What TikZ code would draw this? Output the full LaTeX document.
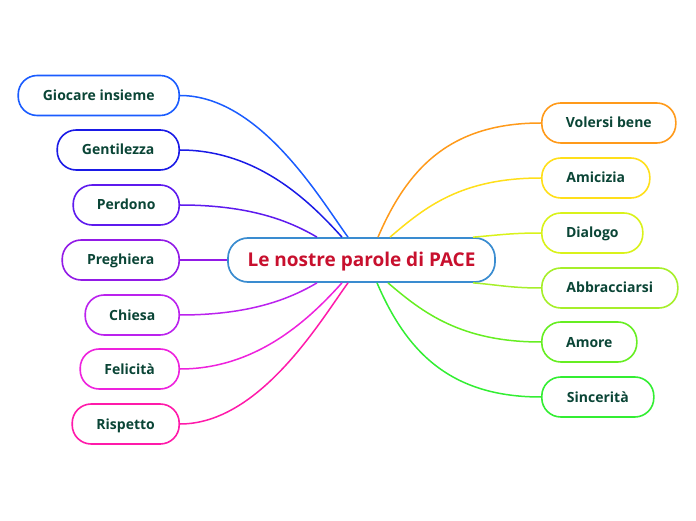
\documentclass[tikz,border=0pt]{standalone}
\usepackage{fontspec}
\setmainfont{Open Sans}
\definecolor{textGreen}{HTML}{0A4536}
\definecolor{titleRed}{HTML}{C8102E}
\definecolor{centerBlue}{HTML}{3A8CD0}
\definecolor{cGioc}{HTML}{1A5CFF}
\definecolor{cGent}{HTML}{1A1AE6}
\definecolor{cPerd}{HTML}{5E1AEE}
\definecolor{cPreg}{HTML}{921AE6}
\definecolor{cChie}{HTML}{BB22EE}
\definecolor{cFeli}{HTML}{EE22DD}
\definecolor{cRisp}{HTML}{FF1AAA}
\definecolor{cVole}{HTML}{FF9A1A}
\definecolor{cAmic}{HTML}{FFDF1A}
\definecolor{cDial}{HTML}{D9F21A}
\definecolor{cAbbr}{HTML}{A6EF2A}
\definecolor{cAmor}{HTML}{66EE22}
\definecolor{cSinc}{HTML}{33EE33}
\begin{document}
\begin{tikzpicture}[x=1pt,y=1pt]
  \tikzstyle{centerStyle}=[rounded corners=20pt,line width=1.7pt,draw=centerBlue,fill=white,minimum width=267pt,minimum height=44pt,inner sep=0pt,text height=16pt,text depth=2.4pt,text=titleRed,font=\fontsize{19}{22}\selectfont\bfseries]
  \tikzstyle{leafStyle}=[rounded corners=19pt,line width=1.6pt,fill=white,minimum height=40pt,inner sep=0pt,text height=12pt,text depth=2pt,text=textGreen,font=\fontsize{14}{16}\selectfont\bfseries]
  \tikzstyle{branch}=[line width=1.5pt]

  \useasboundingbox (0,0) rectangle (696,520);

  \node[centerStyle](pace) at (361.5,260) {Le nostre parole di PACE};

  % left side
  \node[leafStyle,draw=cGioc,minimum width=161pt,anchor=east](giocare) at (180,424.5) {Giocare insieme};
  \draw[branch,cGioc] (giocare.east) .. controls +(80,0) and +(-27,37) .. ([xshift=-13.5pt]pace.north);
  \node[leafStyle,draw=cGent,minimum width=122pt,anchor=east](gentilezza) at (180,370) {Gentilezza};
  \draw[branch,cGent] (gentilezza.east) .. controls +(80,0) and +(-29,32) .. ([xshift=-19.5pt]pace.north);
  \node[leafStyle,draw=cPerd,minimum width=106pt,anchor=east](perdono) at (180,315) {Perdono};
  \draw[branch,cPerd] (perdono.east) .. controls +(70,0) and +(-27,16) .. ([xshift=-44.5pt]pace.north);
  \node[leafStyle,draw=cPreg,minimum width=117pt,anchor=east](preghiera) at (180,260) {Preghiera};
  \draw[branch,cPreg] (preghiera.east) -- (pace.west);
  \node[leafStyle,draw=cChie,minimum width=94pt,anchor=east](chiesa) at (180,205) {Chiesa};
  \draw[branch,cChie] (chiesa.east) .. controls +(70,0) and +(-27,-16) .. ([xshift=-44.5pt]pace.south);
  \node[leafStyle,draw=cFeli,minimum width=99pt,anchor=east](felicita) at (180,151) {Felicità};
  \draw[branch,cFeli] (felicita.east) .. controls +(80,0) and +(-29,-32) .. ([xshift=-19.5pt]pace.south);
  \node[leafStyle,draw=cRisp,minimum width=107pt,anchor=east](rispetto) at (180,96) {Rispetto};
  \draw[branch,cRisp] (rispetto.east) .. controls +(80,0) and +(-27,-37) .. ([xshift=-13.5pt]pace.south);

  % right side
  \node[leafStyle,draw=cVole,minimum width=134pt,anchor=west](volersi) at (541,397) {Volersi bene};
  \draw[branch,cVole] ([xshift=16.5pt]pace.north) .. controls +(30,70) and +(-90,0) .. (volersi.west);
  \node[leafStyle,draw=cAmic,minimum width=108pt,anchor=west](amicizia) at (541,342) {Amicizia};
  \draw[branch,cAmic] ([xshift=28.5pt]pace.north) .. controls +(35,30) and +(-80,0) .. (amicizia.west);
  \node[leafStyle,draw=cDial,minimum width=101pt,anchor=west](dialogo) at (541,287) {Dialogo};
  \draw[branch,cDial] ([xshift=111.5pt]pace.north) .. controls +(25,2) and +(-30,0) .. (dialogo.west);
  \node[leafStyle,draw=cAbbr,minimum width=136pt,anchor=west](abbracciarsi) at (541,232) {Abbracciarsi};
  \draw[branch,cAbbr] ([xshift=111.5pt]pace.south) .. controls +(25,-2) and +(-30,0) .. (abbracciarsi.west);
  \node[leafStyle,draw=cAmor,minimum width=95pt,anchor=west](amore) at (541,178) {Amore};
  \draw[branch,cAmor] ([xshift=26.5pt]pace.south) .. controls +(35,-30) and +(-80,0) .. (amore.west);
  \node[leafStyle,draw=cSinc,minimum width=112pt,anchor=west](sincerita) at (541,123) {Sincerità};
  \draw[branch,cSinc] ([xshift=15.5pt]pace.south) .. controls +(30,-70) and +(-90,0) .. (sincerita.west);

\end{tikzpicture}
\end{document}
